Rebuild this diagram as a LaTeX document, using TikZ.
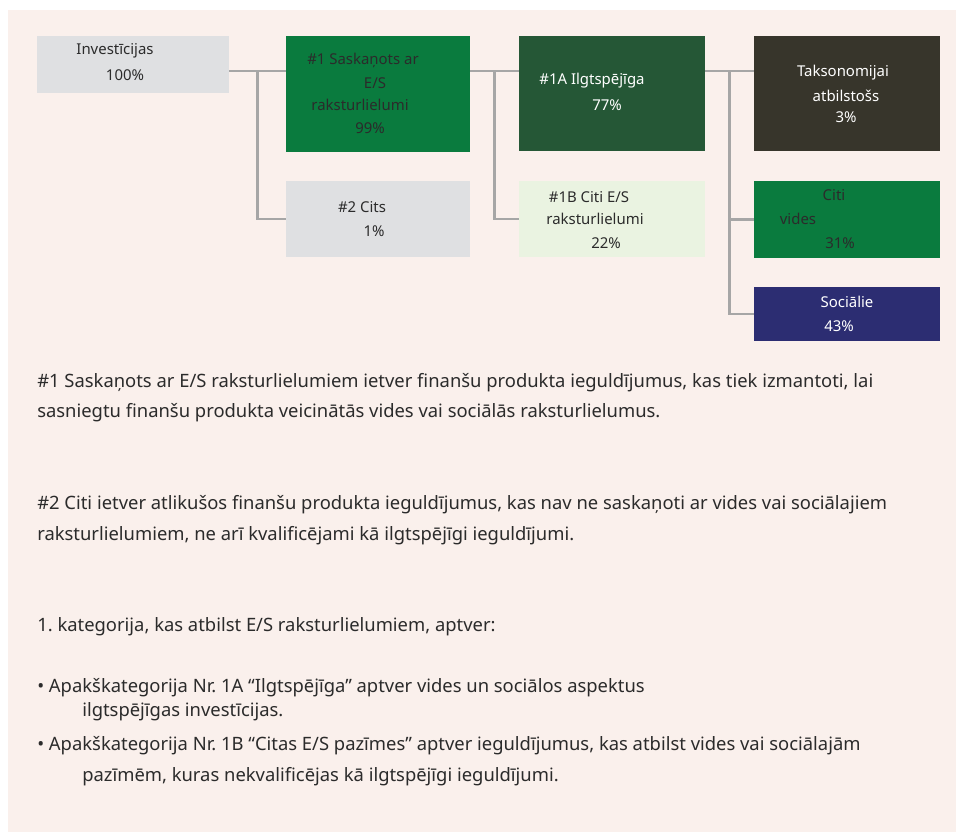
\documentclass[tikz,border=0pt]{standalone}
\usepackage{fontspec}
\setmainfont{Noto Sans}
\usepackage{xcolor}
\usetikzlibrary{calc,positioning}
\definecolor{pagebg}{HTML}{FAF0EC}
\definecolor{boxgray}{HTML}{DFE0E2}
\definecolor{boxgreen}{HTML}{0A7B3E}
\definecolor{boxdkgreen}{HTML}{255736}
\definecolor{boxltgreen}{HTML}{EAF3E1}
\definecolor{boxdark}{HTML}{37352B}
\definecolor{boxnavy}{HTML}{2C2D72}
\definecolor{linkgray}{HTML}{A6A6A6}
\definecolor{txtdark}{HTML}{2B2B2B}
\frenchspacing

\begin{document}
\begin{tikzpicture}[x=0.75pt,y=-0.75pt,
  box/.style={draw=none,inner sep=0pt,minimum width=139.5pt},
  lbl/.style={font=\fontsize{11.2}{13}\selectfont,text=txtdark,inner sep=0pt},
  wlbl/.style={lbl,text=white},
  body/.style={font=\fontsize{13.8}{16}\selectfont\frenchspacing,text=txtdark,anchor=west,inner sep=0pt},
  link/.style={draw=linkgray,line width=1.6pt}]
  \useasboundingbox (0,0) rectangle (956,835);
  \fill[pagebg] (8,10) rectangle (956,832);
  % boxes
  \node[box,fill=boxgray,minimum width=144pt,minimum height=42.75pt] (inv) at (133,64.5) {};
  \node[box,fill=boxgreen,minimum width=138pt,minimum height=87pt] (sask) at (378,94) {};
  \node[box,fill=boxgray,minimum width=138pt,minimum height=57pt] (cits) at (378,219) {};
  \node[box,fill=boxdkgreen,minimum height=86.25pt] (ilgt) at (612,93.5) {};
  \node[box,fill=boxltgreen,minimum height=57pt] (citi) at (612,219) {};
  \node[box,fill=boxdark,minimum height=86.25pt] (takso) at (847,93.5) {};
  \node[box,fill=boxgreen,minimum height=57.75pt] (vides) at (847,219.5) {};
  \node[box,fill=boxnavy,minimum height=40.5pt] (soc) at (847,314) {};
  % labels
  \node[lbl] (inv1) at (115,51) {Investīcijas};
  \node[lbl] (inv2) at (125,75) {100\%};
  \node[lbl] (sask1) at (363,60) {\#1 Saskaņots ar};
  \node[lbl] (sask2) at (375,83) {E/S};
  \node[lbl] (sask3) at (360,105) {raksturlielumi};
  \node[lbl] (sask4) at (370,128) {99\%};
  \node[lbl] (cits1) at (362,207) {\#2 Cits};
  \node[lbl] (cits2) at (374,231) {1\%};
  \node[wlbl] (ilgt1) at (592,81) {\#1A Ilgtspējīga};
  \node[wlbl] (ilgt2) at (607,105) {77\%};
  \node[lbl] (citi1) at (589,197) {\#1B Citi E/S};
  \node[lbl] (citi2) at (595,219) {raksturlielumi};
  \node[lbl] (citi3) at (606,243) {22\%};
  \node[wlbl] (takso1) at (843,73) {Taksonomijai};
  \node[wlbl] (takso2) at (846,96) {atbilstošs};
  \node[wlbl] (takso3) at (846,117) {3\%};
  \node[lbl] (vides1) at (834,195) {Citi};
  \node[lbl] (vides2) at (798,219) {vides};
  \node[lbl] (vides3) at (840,243) {31\%};
  \node[wlbl] (soc1) at (847,302) {Sociālie};
  \node[wlbl] (soc2) at (839,326) {43\%};
  % connectors
  \coordinate (row) at (0,71);
  \coordinate (j1) at ($(inv.east)!0.5!(sask.west)$);
  \coordinate (j2) at ($(sask.east)!0.5!(ilgt.west)$);
  \coordinate (j3) at ($(ilgt.east)!0.5!(takso.west)$);
  \draw[link] (inv.east |- row) -- (sask.west |- row);
  \draw[link] (j1 |- row) |- (cits.west);
  \draw[link] (sask.east |- row) -- (ilgt.west |- row);
  \draw[link] (j2 |- row) |- (citi.west);
  \draw[link] (ilgt.east |- row) -- (takso.west |- row);
  \draw[link] (j3 |- row) |- (vides.west);
  \draw[link] (j3 |- row) |- (soc.west);
  % notes
  \node[body] (n1a) at (37,383) {\#1 Saskaņots ar E/S raksturlielumiem ietver finanšu produkta ieguldījumus, kas tiek izmantoti, lai};
  \node[body] (n1b) at (37,413) {sasniegtu finanšu produkta veicinātās vides vai sociālās raksturlielumus.};
  \node[body] (n2a) at (37,505) {\#2 Citi ietver atlikušos finanšu produkta ieguldījumus, kas nav ne saskaņoti ar vides vai sociālajiem};
  \node[body] (n2b) at (37,536) {raksturlielumiem, ne arī kvalificējami kā ilgtspējīgi ieguldījumi.};
  \node[body] (n3) at (37,627) {1. kategorija, kas atbilst E/S raksturlielumiem, aptver:};
  \node[body] (n4a) at (37,688) {• Apakškategorija Nr. 1A “Ilgtspējīga” aptver vides un sociālos aspektus};
  \node[body] (n4b) at (82,712) {ilgtspējīgas investīcijas.};
  \node[body] (n5a) at (37,746) {• Apakškategorija Nr. 1B “Citas E/S pazīmes” aptver ieguldījumus, kas atbilst vides vai sociālajām};
  \node[body] (n5b) at (82,777) {pazīmēm, kuras nekvalificējas kā ilgtspējīgi ieguldījumi.};
\end{tikzpicture}
\end{document}
